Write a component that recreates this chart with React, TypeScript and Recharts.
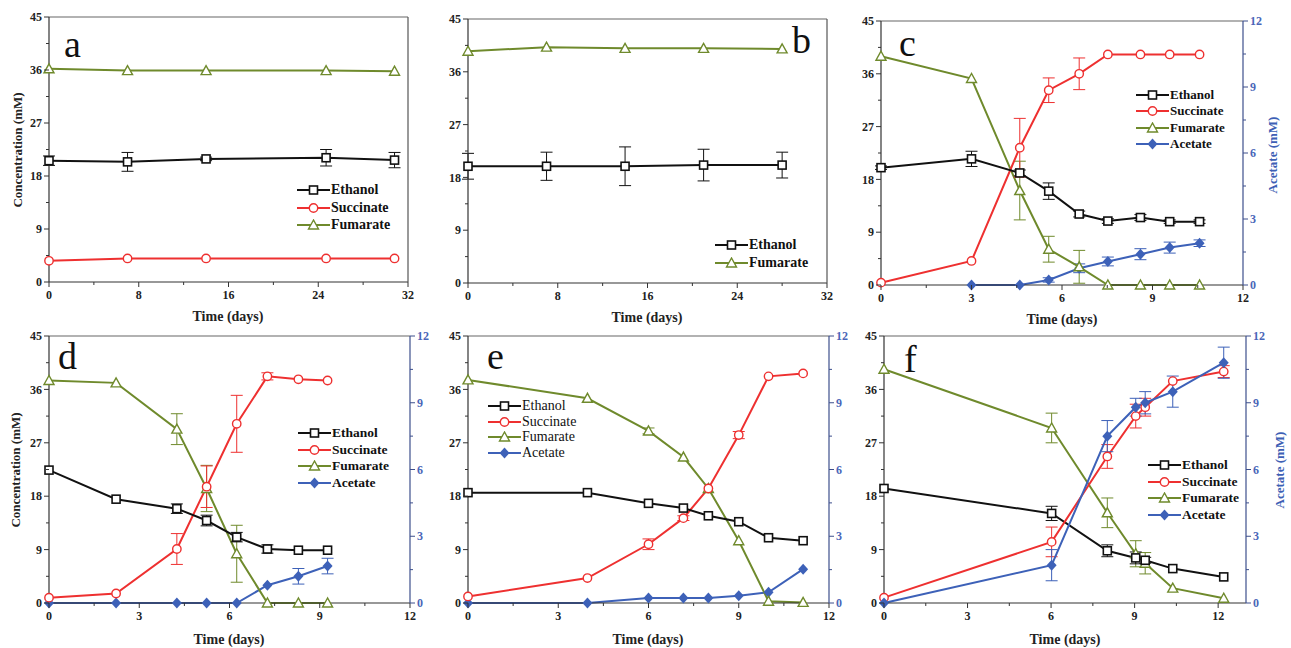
import { LineChart, Line, XAxis, YAxis, ErrorBar, ReferenceLine } from "recharts";

// ---- data ----
const aDays = [0, 7, 14, 24.7, 30.8];
const aEthanol = [20.6, 20.4, 20.9, 21.1, 20.7];
const aEthanolErr = [0.8, 1.6, 0.3, 1.4, 1.3];
const aSuccinate = [3.6, 4.0, 4.0, 4.0, 4.0];
const aFumarate = [36.2, 35.9, 35.9, 35.9, 35.8];

const bDays = [0, 7, 14, 21, 28];
const bEthanol = [19.9, 19.9, 19.9, 20.1, 20.1];
const bEthanolErr = [2.2, 2.4, 3.3, 2.7, 2.2];
const bFumarate = [39.5, 40.2, 40.0, 40.0, 39.9];

const cDays = [0, 3, 4.6, 5.56, 6.57, 7.52, 8.6, 9.57, 10.56];
const cEthanol = [20.0, 21.5, 19.1, 16.0, 12.1, 10.9, 11.5, 10.8, 10.8];
const cEthanolErr = [0.3, 1.3, 0.5, 1.4, 0.5, 0.4, 0.5, 0.3, 0.3];
const cSuccinate = [0.4, 4.1, 23.4, 33.2, 36.0, 39.3, 39.3, 39.3, 39.3];
const cSuccinateErr = [0, 0, 5.0, 2.1, 2.7, 0, 0, 0, 0];
const cFumarate = [39.0, 35.2, 16.1, 6.1, 3.1, 0, 0, 0, 0];
const cFumarateErr = [0, 0, 5.0, 2.2, 2.8, 0, 0, 0, 0];
const cAcetate = [null, 0, 0, 0.23, 0.76, 1.07, 1.4, 1.7, 1.9];
const cAcetateErr = [0, 0, 0, 0.1, 0.2, 0.2, 0.25, 0.25, 0.15];

const dDays = [0, 2.23, 4.25, 5.24, 6.24, 7.26, 8.29, 9.26];
const dEthanol = [22.4, 17.5, 15.9, 13.9, 11.1, 9.1, 8.9, 8.9];
const dEthanolErr = [0, 0, 0.8, 0.9, 0.8, 0.7, 0, 0];
const dSuccinate = [0.9, 1.6, 9.1, 19.6, 30.2, 38.2, 37.7, 37.5];
const dSuccinateErr = [0, 0, 2.6, 3.5, 4.8, 0.6, 0, 0];
const dFumarate = [37.5, 37.1, 29.3, 19.3, 8.3, 0, 0, 0];
const dFumarateErr = [0, 0, 2.6, 3.9, 4.8, 0, 0, 0];
const dAcetate = [0, 0, 0, 0, 0, 0.8, 1.2, 1.66];
const dAcetateErr = [0, 0, 0, 0, 0, 0, 0.35, 0.35];

const eDays = [0, 3.97, 6.0, 7.16, 7.99, 9.0, 9.99, 11.14];
const eEthanol = [18.6, 18.6, 16.8, 16.0, 14.7, 13.7, 11.0, 10.5];
const eSuccinate = [1.1, 4.2, 9.9, 14.3, 19.3, 28.3, 38.2, 38.7];
const eSuccinateErr = [0, 0, 0.9, 0.4, 0, 0.6, 0, 0];
const eFumarate = [37.6, 34.5, 29.0, 24.6, 19.3, 10.5, 0.3, 0.1];
const eFumarateErr = [0, 0, 0.5, 0, 0, 0, 0, 0];
const eAcetate = [0, 0, 0.22, 0.22, 0.22, 0.33, 0.48, 1.52];

const fDays = [0, 6.02, 8.02, 9.04, 9.38, 10.37, 12.2];
const fEthanol = [19.3, 15.1, 8.8, 7.6, 7.2, 5.8, 4.4];
const fEthanolErr = [0, 1.2, 1.0, 1.0, 0.5, 0, 0];
const fSuccinate = [0.9, 10.3, 24.7, 31.5, 33.0, 37.4, 39.0];
const fSuccinateErr = [0, 2.5, 2.0, 2.0, 1.5, 0, 1.0];
const fFumarate = [39.4, 29.5, 15.2, 8.3, 6.7, 2.5, 0.8];
const fFumarateErr = [0, 2.5, 2.5, 2.2, 1.8, 0, 0];
const fAcetate = [0, 1.7, 7.5, 8.8, 9.0, 9.5, 10.8];
const fAcetateErr = [0, 0.7, 0.7, 0.4, 0.5, 0.7, 0.7];

// tick values
const concTicks = [0, 4.5, 9, 13.5, 18, 22.5, 27, 31.5, 36, 40.5, 45];
const acetateTicks = [0, 1.5, 3, 4.5, 6, 7.5, 9, 10.5, 12];
const longDayTicks = [0, 4, 8, 12, 16, 20, 24, 28, 32];
const shortDayTicks = [0, 1.5, 3, 4.5, 6, 7.5, 9, 10.5, 12];

const FONT = '"Liberation Serif", "Times New Roman", serif';

type Key = "ethanol" | "succinate" | "fumarate" | "acetate";
const SERIES: Record<Key, { name: string; color: string; shape: string }> = {
  ethanol: { name: "Ethanol", color: "#111111", shape: "square" },
  succinate: { name: "Succinate", color: "#ee3030", shape: "circle" },
  fumarate: { name: "Fumarate", color: "#6f8a2c", shape: "triangle" },
  acetate: { name: "Acetate", color: "#3d61b8", shape: "diamond" },
};

const rowsOf = (days: number[], cols: Record<string, (number | null)[]>) =>
  days.map((day, i) => {
    const r: Record<string, number | null> = { day };
    for (const k in cols) r[k] = cols[k][i];
    return r;
  });

const Marker = ({ shape, cx, cy, color }: { shape: string; cx: number; cy: number; color: string }) => {
  if (shape === "square")
    return <rect x={cx - 4} y={cy - 4} width={8} height={8} fill="#fff" stroke={color} strokeWidth={1.6} />;
  if (shape === "circle") return <circle cx={cx} cy={cy} r={4.2} fill="#fff" stroke={color} strokeWidth={1.4} />;
  if (shape === "triangle")
    return (
      <polygon
        points={`${cx},${cy - 5} ${cx - 5},${cy + 4} ${cx + 5},${cy + 4}`}
        fill="#fff"
        stroke={color}
        strokeWidth={1.4}
      />
    );
  return <polygon points={`${cx},${cy - 5.5} ${cx + 5},${cy} ${cx},${cy + 5.5} ${cx - 5},${cy}`} fill={color} />;
};

const makeTick = (side: "left" | "right" | "bottom", major: number, color: string) => (p: any) => {
  const { x, y, payload, index } = p;
  const v = payload.value as number;
  const isMajor = Math.abs(v / major - Math.round(v / major)) < 1e-6;
  const len = isMajor ? 5 : 3;
  const label = isMajor ? String(v) : "";
  const txt = { fontFamily: FONT, fontWeight: 700, fontSize: 12, fill: color };
  const lc = side === "right" ? "#3d4f8c" : "#333";
  if (side === "bottom")
    return (
      <g key={`t${index}`}>
        <line x1={x} y1={y} x2={x} y2={y + len} stroke={lc} />
        <text x={x} y={y + 8} textAnchor="middle" dominantBaseline="hanging" style={txt}>
          {label}
        </text>
      </g>
    );
  if (side === "left")
    return (
      <g key={`t${index}`}>
        <line x1={x - len} y1={y} x2={x} y2={y} stroke={lc} />
        <text x={x - 7} y={y} dy="0.35em" textAnchor="end" style={txt}>
          {label}
        </text>
      </g>
    );
  return (
    <g key={`t${index}`}>
      <line x1={x} y1={y} x2={x + len} y2={y} stroke={lc} />
      <text x={x + 7} y={y} dy="0.35em" textAnchor="start" style={txt}>
        {label}
      </text>
    </g>
  );
};

interface PanelCfg {
  plot: { x: number; y: number; w: number; h: number };
  xMax: number;
  xTicks: number[];
  xMajor: number;
  rows: Record<string, number | null>[];
  keys: Key[];
  acetateAxis: boolean;
}

const LW = 45;
const RW = 40;
const XH = 30;
const MT = 10;

const Panel = ({ cfg }: { cfg: PanelCfg }) => {
  const { plot } = cfg;
  return (
    <div style={{ position: "absolute", left: plot.x - LW, top: plot.y - MT }}>
      <LineChart
        width={LW + plot.w + RW}
        height={MT + plot.h + XH}
        data={cfg.rows}
        margin={{ top: MT, right: 0, bottom: 0, left: 0 }}
      >
        <XAxis
          type="number"
          dataKey="day"
          domain={[0, cfg.xMax]}
          ticks={cfg.xTicks}
          interval={0}
          height={XH}
          tickSize={0}
          tickMargin={0}
          tick={makeTick("bottom", cfg.xMajor, "#222")}
          axisLine={{ stroke: "#333", strokeWidth: 1.2 }}
        />
        <YAxis
          yAxisId="left"
          type="number"
          domain={[0, 45]}
          ticks={concTicks}
          interval={0}
          width={LW}
          tickSize={0}
          tickMargin={0}
          tick={makeTick("left", 9, "#222")}
          axisLine={{ stroke: "#333", strokeWidth: 1.2 }}
        />
        {cfg.acetateAxis ? (
          <YAxis
            yAxisId="right"
            orientation="right"
            type="number"
            domain={[0, 12]}
            ticks={acetateTicks}
            interval={0}
            width={RW}
            tickSize={0}
            tickMargin={0}
            tick={makeTick("right", 3, "#4a66b8")}
            axisLine={{ stroke: "#3d4f8c", strokeWidth: 1.2 }}
          />
        ) : (
          <YAxis
            yAxisId="right"
            orientation="right"
            type="number"
            domain={[0, 45]}
            tick={false}
            tickLine={false}
            width={RW}
            axisLine={{ stroke: "#555", strokeWidth: 1.2 }}
          />
        )}
        <ReferenceLine yAxisId="left" y={45} stroke="#666" strokeWidth={1.2} />
        {cfg.keys.map((k) => {
          const s = SERIES[k];
          return (
            <Line
              key={k}
              yAxisId={k === "acetate" ? "right" : "left"}
              dataKey={k}
              stroke={s.color}
              strokeWidth={2}
              isAnimationActive={false}
              activeDot={false}
              dot={(p: any) =>
                p.cx == null || p.cy == null || p.value == null ? (
                  <g key={`${k}${p.index}`} />
                ) : (
                  <g key={`${k}${p.index}`}>
                    <Marker shape={s.shape} cx={p.cx} cy={p.cy} color={s.color} />
                  </g>
                )
              }
            >
              <ErrorBar dataKey={`${k}Err`} width={6} stroke={s.color} strokeWidth={1} direction="y" />
            </Line>
          );
        })}
      </LineChart>
    </div>
  );
};

const LegendBox = ({
  left,
  center,
  rowH,
  keys,
  bold,
  size,
}: {
  left: number;
  center: number;
  rowH: number;
  keys: Key[];
  bold: boolean;
  size: number;
}) => (
  <div style={{ position: "absolute", left, top: center - rowH / 2 }}>
    {keys.map((k) => {
      const s = SERIES[k];
      return (
        <div key={k} style={{ height: rowH, display: "flex", alignItems: "center" }}>
          <svg width={33} height={12} style={{ display: "block" }}>
            <line x1={0} y1={6} x2={33} y2={6} stroke={s.color} strokeWidth={2} />
            <Marker shape={s.shape} cx={16.5} cy={6} color={s.color} />
          </svg>
          <span
            style={{
              marginLeft: 1,
              fontFamily: FONT,
              fontWeight: bold ? 700 : 400,
              fontSize: size,
              color: "#111",
              whiteSpace: "nowrap",
            }}
          >
            {s.name}
          </span>
        </div>
      );
    })}
  </div>
);

const Txt = ({
  x,
  y,
  text,
  size,
  color = "#222",
  rotate = false,
  bold = true,
}: {
  x: number;
  y: number;
  text: string;
  size: number;
  color?: string;
  rotate?: boolean;
  bold?: boolean;
}) => (
  <div
    style={{
      position: "absolute",
      left: x,
      top: y,
      transform: `translate(-50%, -50%)${rotate ? " rotate(-90deg)" : ""}`,
      fontFamily: FONT,
      fontWeight: bold ? 700 : 400,
      fontSize: size,
      color,
      whiteSpace: "nowrap",
      lineHeight: 1,
    }}
  >
    {text}
  </div>
);

const Letter = ({ x, top, ch }: { x: number; top: number; ch: string }) => (
  <div style={{ position: "absolute", left: x, top, fontFamily: FONT, fontSize: 38, lineHeight: "38px", color: "#111" }}>
    {ch}
  </div>
);

const panels: PanelCfg[] = [
  {
    plot: { x: 49, y: 17, w: 359, h: 265 },
    xMax: 32,
    xTicks: longDayTicks,
    xMajor: 8,
    rows: rowsOf(aDays, { ethanol: aEthanol, ethanolErr: aEthanolErr, succinate: aSuccinate, fumarate: aFumarate }),
    keys: ["fumarate", "succinate", "ethanol"],
    acetateAxis: false,
  },
  {
    plot: { x: 468, y: 19, w: 359, h: 264 },
    xMax: 32,
    xTicks: longDayTicks,
    xMajor: 8,
    rows: rowsOf(bDays, { ethanol: bEthanol, ethanolErr: bEthanolErr, fumarate: bFumarate }),
    keys: ["fumarate", "ethanol"],
    acetateAxis: false,
  },
  {
    plot: { x: 881, y: 21, w: 362, h: 264 },
    xMax: 12,
    xTicks: shortDayTicks,
    xMajor: 3,
    rows: rowsOf(cDays, {
      ethanol: cEthanol,
      ethanolErr: cEthanolErr,
      succinate: cSuccinate,
      succinateErr: cSuccinateErr,
      fumarate: cFumarate,
      fumarateErr: cFumarateErr,
      acetate: cAcetate,
      acetateErr: cAcetateErr,
    }),
    keys: ["acetate", "fumarate", "succinate", "ethanol"],
    acetateAxis: true,
  },
  {
    plot: { x: 49, y: 336, w: 361, h: 267 },
    xMax: 12,
    xTicks: shortDayTicks,
    xMajor: 3,
    rows: rowsOf(dDays, {
      ethanol: dEthanol,
      ethanolErr: dEthanolErr,
      succinate: dSuccinate,
      succinateErr: dSuccinateErr,
      fumarate: dFumarate,
      fumarateErr: dFumarateErr,
      acetate: dAcetate,
      acetateErr: dAcetateErr,
    }),
    keys: ["acetate", "fumarate", "succinate", "ethanol"],
    acetateAxis: true,
  },
  {
    plot: { x: 468, y: 336, w: 361, h: 267 },
    xMax: 12,
    xTicks: shortDayTicks,
    xMajor: 3,
    rows: rowsOf(eDays, {
      ethanol: eEthanol,
      succinate: eSuccinate,
      succinateErr: eSuccinateErr,
      fumarate: eFumarate,
      fumarateErr: eFumarateErr,
      acetate: eAcetate,
    }),
    keys: ["acetate", "fumarate", "succinate", "ethanol"],
    acetateAxis: true,
  },
  {
    plot: { x: 884, y: 336, w: 362, h: 267 },
    xMax: 13,
    xTicks: shortDayTicks,
    xMajor: 3,
    rows: rowsOf(fDays, {
      ethanol: fEthanol,
      ethanolErr: fEthanolErr,
      succinate: fSuccinate,
      succinateErr: fSuccinateErr,
      fumarate: fFumarate,
      fumarateErr: fFumarateErr,
      acetate: fAcetate,
      acetateErr: fAcetateErr,
    }),
    keys: ["fumarate", "ethanol", "succinate", "acetate"],
    acetateAxis: true,
  },
];

const all: Key[] = ["ethanol", "succinate", "fumarate", "acetate"];

export default function App() {
  return (
    <div style={{ position: "absolute", left: 0, top: 0, width: 1291, height: 648, background: "#fff", overflow: "hidden" }}>
      {panels.map((p, i) => (
        <Panel key={i} cfg={p} />
      ))}

      <Letter x={64} top={25} ch="a" />
      <Letter x={792} top={21} ch="b" />
      <Letter x={899} top={24} ch="c" />
      <Letter x={58} top={337} ch="d" />
      <Letter x={487} top={337} ch="e" />
      <Letter x={904} top={340} ch="f" />

      <LegendBox left={297} center={190} rowH={17.5} keys={["ethanol", "succinate", "fumarate"]} bold size={14} />
      <LegendBox left={715} center={245} rowH={18} keys={["ethanol", "fumarate"]} bold size={14} />
      <LegendBox left={1136} center={95} rowH={16.3} keys={all} bold size={13} />
      <LegendBox left={298} center={433} rowH={16.7} keys={all} bold size={13.5} />
      <LegendBox left={488} center={406} rowH={15.7} keys={all} bold={false} size={14} />
      <LegendBox left={1148} center={465} rowH={16.5} keys={all} bold size={13.5} />

      <Txt x={17} y={150} text="Concentration (mM)" size={13} rotate />
      <Txt x={15} y={470} text="Concentration (mM)" size={13} rotate />
      <Txt x={1272} y={155} text="Acetate (mM)" size={13} rotate color="#3d5fb5" />
      <Txt x={1279} y={470} text="Acetate (mM)" size={13} rotate color="#3d5fb5" />

      <Txt x={228} y={317} text="Time (days)" size={14} />
      <Txt x={647} y={318} text="Time (days)" size={14} />
      <Txt x={1062} y={320} text="Time (days)" size={14} />
      <Txt x={229} y={640} text="Time (days)" size={14} />
      <Txt x={648} y={640} text="Time (days)" size={14} />
      <Txt x={1065} y={640} text="Time (days)" size={14} />
    </div>
  );
}
